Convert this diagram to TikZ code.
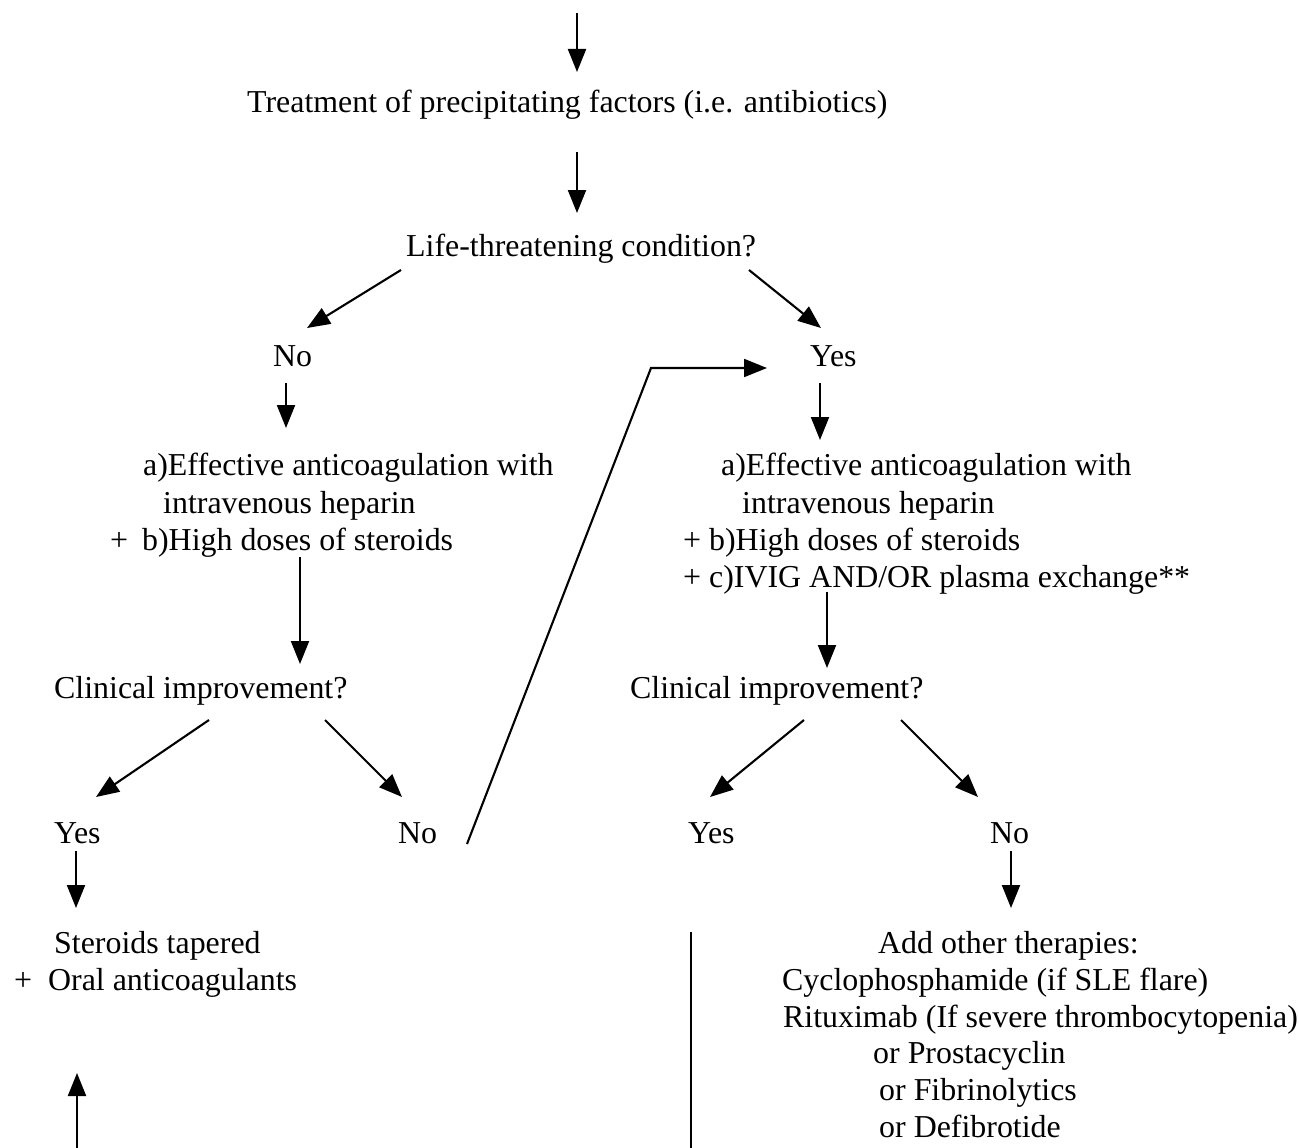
\documentclass[tikz,border=0pt]{standalone}
\usepackage{fontspec}
\setmainfont{Liberation Serif}
\usetikzlibrary{arrows.meta}
\begin{document}
\begin{tikzpicture}[x=1pt,y=-1pt,
  lbl/.style={anchor=base west, inner sep=0pt, font=\fontsize{31.9}{37}\selectfont},
  arr/.style={line width=2.1pt, -{Triangle[length=23pt,width=18pt]}},
  ln/.style={line width=2.1pt}]
\useasboundingbox (0,0) rectangle (1299,1148);
% nodes
\node[lbl] (treat) at (247,113) {Treatment of precipitating factors (i.e. antibiotics)};
\node[lbl] (life) at (406,256) {Life-threatening condition?};
\node[lbl] (no1) at (273,366) {No};
\node[lbl] (yes1) at (810,366) {Yes};
\node[lbl] (la1) at (143,475) {a)Effective anticoagulation with};
\node[lbl] (la2) at (163,513) {intravenous heparin};
\node[lbl] (la3) at (110,550) {+\hspace*{14pt}b)High doses of steroids};
\node[lbl] (ra1) at (721,475) {a)Effective anticoagulation with};
\node[lbl] (ra2) at (742,513) {intravenous heparin};
\node[lbl] (ra3) at (683,550) {+\hspace*{8pt}b)High doses of steroids};
\node[lbl] (ra4) at (683,587) {+\hspace*{8pt}c)IVIG AND/OR plasma exchange**};
\node[lbl] (cl1) at (54,698) {Clinical improvement?};
\node[lbl] (cl2) at (630,698) {Clinical improvement?};
\node[lbl] (yes2) at (54,843) {Yes};
\node[lbl] (no2) at (398,843) {No};
\node[lbl] (yes3) at (688,843) {Yes};
\node[lbl] (no3) at (990,843) {No};
\node[lbl] (st1) at (54,953) {Steroids tapered};
\node[lbl] (st2) at (14,990) {+\hspace*{16pt}Oral anticoagulants};
\node[lbl] (ot1) at (878,953) {Add other therapies:};
\node[lbl] (ot2) at (782,990) {Cyclophosphamide (if SLE flare)};
\node[lbl] (ot3) at (783,1027) {Rituximab (If severe thrombocytopenia)};
\node[lbl] (ot4) at (873,1063) {or Prostacyclin};
\node[lbl] (ot5) at (879,1100) {or Fibrinolytics};
\node[lbl] (ot6) at (879,1137) {or Defibrotide};
% free ends
\coordinate (topin) at (577,13);
\coordinate (botl) at (77,1148);
\coordinate (vtop) at (691,932);
\coordinate (vbot) at (691,1148);
% connectors
\draw[arr] (topin) -- ([shift={(330,-41)}]treat.base west);
\draw[arr] ([shift={(330,39)}]treat.base west) -- ([shift={(171,-43)}]life.base west);
\draw[arr] ([shift={(-5,14)}]life.base west) -- ([shift={(34,-38)}]no1.base west);
\draw[arr] ([shift={(343,14)}]life.base west) -- ([shift={(11,-38)}]yes1.base west);
\draw[arr] ([shift={(13,17)}]no1.base west) -- ([shift={(143,-47)}]la1.base west);
\draw[arr] ([shift={(10,17)}]yes1.base west) -- ([shift={(99,-35)}]ra1.base west);
\draw[arr] ([shift={(190,7)}]la3.base west) -- ([shift={(246,-34)}]cl1.base west);
\draw[arr] ([shift={(144,5)}]ra4.base west) -- ([shift={(197,-30)}]cl2.base west);
\draw[arr] ([shift={(155,22)}]cl1.base west) -- ([shift={(42,-46)}]yes2.base west);
\draw[arr] ([shift={(271,22)}]cl1.base west) -- ([shift={(4,-46)}]no2.base west);
\draw[arr] ([shift={(174,22)}]cl2.base west) -- ([shift={(22,-46)}]yes3.base west);
\draw[arr] ([shift={(271,22)}]cl2.base west) -- ([shift={(-12,-46)}]no3.base west);
\draw[arr] ([shift={(69,1)}]no2.base west) -- ++(184,-476) -- ([shift={(-43,2)}]yes1.base west);
\draw[arr] ([shift={(22,8)}]yes2.base west) -- ([shift={(22,-45)}]st1.base west);
\draw[arr] ([shift={(21,8)}]no3.base west) -- ([shift={(133,-45)}]ot1.base west);
\draw[arr] (botl) -- ([shift={(63,83)}]st2.base west);
\draw[ln] (vtop) -- (vbot);
\end{tikzpicture}
\end{document}
